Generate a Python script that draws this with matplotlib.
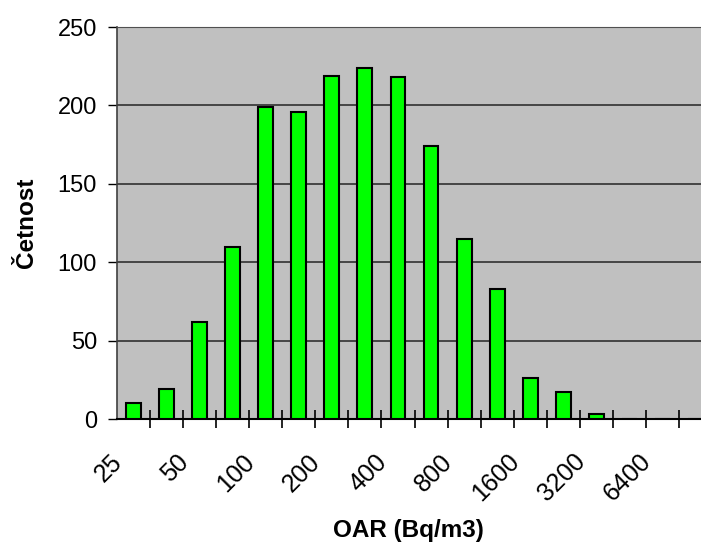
import matplotlib
matplotlib.use("Agg")
import matplotlib.pyplot as plt
from matplotlib.transforms import ScaledTranslation
import numpy as np

plt.rcParams['font.family'] = ['Liberation Sans', 'DejaVu Sans']

# Data
counts = [10, 19, 62, 110, 199, 196, 219, 224, 218, 174, 115, 83, 26, 17, 3, 0, 0, 0]
tick_labels = ['25', '50', '100', '200', '400', '800', '1600', '3200', '6400']
x_label = 'OAR (Bq/m3)'
y_label = 'Četnost'
y_ticks = [0, 50, 100, 150, 200, 250]

W, H = 701, 546
fig = plt.figure(figsize=(W / 100, H / 100), dpi=100)
ax = fig.add_axes([117 / W, 1 - 419 / H, (712 - 117) / W, (419 - 27) / H])
ax.set_facecolor('#C0C0C0')

n = len(counts)
x = np.arange(n)
ax.bar(x, counts, width=0.45, color='#00FF00', edgecolor='black', linewidth=1.5, zorder=3)

ax.set_xlim(-0.5, n - 0.5)
ax.set_ylim(0, 250)

# gridlines
ax.set_yticks(y_ticks)
ax.yaxis.grid(True, color='#303030', linewidth=1.2, zorder=1)
ax.set_axisbelow(True)
ax.tick_params(axis='y', direction='out', length=6.5, width=1, pad=8, labelsize=17, color='black')
ax.spines['right'].set_visible(False)
ax.spines['top'].set_color('#505050')
ax.spines['left'].set_color('#404040')
ax.spines['bottom'].set_color('black')
ax.spines['left'].set_linewidth(1.2)
ax.spines['bottom'].set_linewidth(1.5)

# x ticks: boundaries as major ticks without labels, labels at even category centres
ax.set_xticks(np.arange(0.5, n - 0.5, 1.0))
ax.set_xticklabels([])
ax.tick_params(axis='x', which='major', direction='inout', length=12.5, width=1.2, color='black')
label_pos = np.arange(0, 2 * len(tick_labels), 2)
ax.set_xticks(label_pos, minor=True)
ax.set_xticklabels(tick_labels, minor=True, rotation=45, ha='right', va='center',
                   rotation_mode='anchor', fontsize=18)
ax.tick_params(axis='x', which='minor', length=0, pad=0)
off = ScaledTranslation(-15 / 100, -39 / 100, fig.dpi_scale_trans)
for lab in ax.get_xticklabels(minor=True):
    lab.set_transform(lab.get_transform() + off)

ax.set_xlabel(x_label, fontsize=17.5, fontweight='bold')
ax.set_ylabel(y_label, fontsize=17.5, fontweight='bold')
ax.xaxis.set_label_coords((408 - 117) / (712 - 117), -(530 - 419) / (419 - 27))
ax.yaxis.set_label_coords(-(117 - 27) / (712 - 117), 0.5)
ax.xaxis.label.set_va('center')
ax.yaxis.label.set_va('center')

fig.savefig('out.png', dpi=100)
